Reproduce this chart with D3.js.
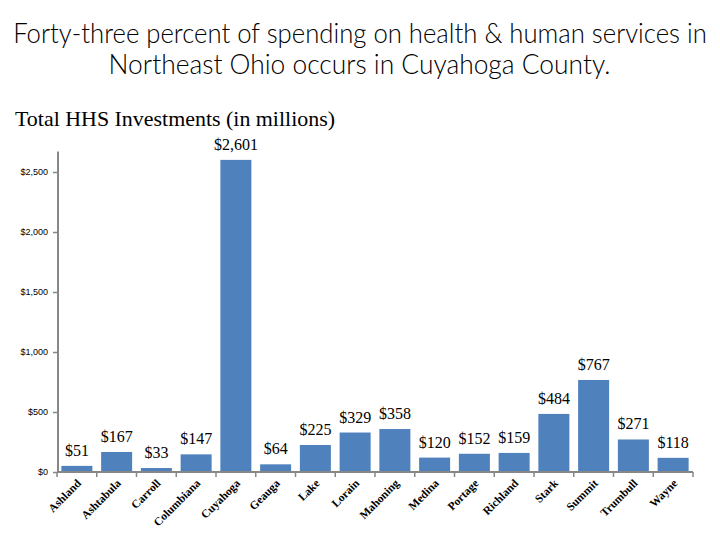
<!DOCTYPE html>
<html>
<head>
<meta charset="utf-8">
<script src="https://cdn.jsdelivr.net/npm/d3@7"></script>
<style>
  html, body { margin: 0; padding: 0; background: #fff; }
  svg { display: block; }
</style>
</head>
<body>
<svg id="chart" width="720" height="540"></svg>
<script>
const titleLines = ["Forty-three percent of spending on health & human services in", "Northeast Ohio occurs in Cuyahoga County."];
const subtitle = "Total HHS Investments (in millions)";
const counties = ["Ashland","Ashtabula","Carroll","Columbiana","Cuyahoga","Geauga","Lake","Lorain","Mahoning","Medina","Portage","Richland","Stark","Summit","Trumbull","Wayne"];
const investments = [51,167,33,147,2601,64,225,329,358,120,152,159,484,767,271,118];
const yTicks = [0,500,1000,1500,2000,2500];
const yAxisMax = 2670;

const svg = d3.select("#chart");
const fmt = d3.format(",");

// Titles: fit natural width, then stretch vertically to reference cap height
const titleFont = "Lato, 'Open Sans', sans-serif";
function fitTitle(str, cx, baseline, targetW, targetSize) {
  const t = svg.append("text").attr("x", 0).attr("y", 0)
    .attr("text-anchor", "middle")
    .attr("font-family", titleFont).attr("font-weight", 300).attr("font-size", 20)
    .attr("fill", "#000").text(str);
  const w = t.node().getComputedTextLength();
  const size = 20 * targetW / w;
  t.attr("font-size", size)
   .attr("transform", `translate(${cx},${baseline}) scale(1,${targetSize / size})`);
}
fitTitle(titleLines[0], 360, 43, 694, 27.5);
fitTitle(titleLines[1], 359.5, 74, 502, 27.5);

svg.append("text").attr("x", 15).attr("y", 126)
  .attr("font-family", "'Liberation Serif', 'DejaVu Serif', serif").attr("font-size", 21)
  .attr("textLength", 320).attr("lengthAdjust", "spacingAndGlyphs")
  .attr("fill", "#000").text(subtitle);

// Scales
const x0 = 57, x1 = 693, yBase = 472, y2500 = 172;
const x = d3.scaleBand().domain(counties).range([x0, x1]).paddingInner(0.22).paddingOuter(0.11);
const y = d3.scaleLinear().domain([0, 2500]).range([yBase, y2500]);

const axisColor = "#878787";

// Y axis
const yAxis = d3.axisLeft(y).tickValues(yTicks).tickSize(5).tickPadding(5)
  .tickFormat(d => "$" + fmt(d));
const gy = svg.append("g").attr("transform", `translate(${x0 + 1},0)`).call(yAxis);
gy.select(".domain").remove();
gy.append("line").attr("x1", 0).attr("x2", 0).attr("y1", y(yAxisMax)).attr("y2", yBase)
  .attr("stroke", axisColor).attr("stroke-width", 2);
gy.selectAll(".tick line").attr("stroke", axisColor).attr("stroke-width", 1.5);
gy.selectAll(".tick text").attr("font-family", "'Liberation Sans', Arial, sans-serif")
  .attr("font-size", 9).attr("fill", "#000");

// Bars
svg.append("g").selectAll("rect").data(counties).join("rect")
  .attr("x", d => x(d))
  .attr("width", x.bandwidth())
  .attr("y", (d, i) => y(investments[i]))
  .attr("height", (d, i) => yBase - y(investments[i]))
  .attr("fill", "#4F81BD");

// Value labels
svg.append("g").selectAll("text").data(counties).join("text")
  .attr("x", d => x(d) + x.bandwidth() / 2)
  .attr("y", (d, i) => y(investments[i]) - 10)
  .attr("text-anchor", "middle")
  .attr("font-family", "'Liberation Serif', 'DejaVu Serif', serif")
  .attr("font-size", 16).attr("fill", "#000")
  .text((d, i) => "$" + fmt(investments[i]));

// X axis line and ticks between categories
const gx = svg.append("g");
gx.append("line").attr("x1", x0).attr("x2", x1).attr("y1", yBase).attr("y2", yBase)
  .attr("stroke", axisColor).attr("stroke-width", 2);
const slot = (x1 - x0) / counties.length;
gx.selectAll("line.tk").data(d3.range(counties.length + 1)).join("line").attr("class", "tk")
  .attr("x1", i => x0 + i * slot).attr("x2", i => x0 + i * slot)
  .attr("y1", yBase).attr("y2", yBase + 5)
  .attr("stroke", axisColor).attr("stroke-width", 1.5);

// X labels rotated
gx.selectAll("text").data(counties).join("text")
  .attr("transform", d => `translate(${x(d) + x.bandwidth() / 2 + 5},${yBase + 12}) rotate(-45)`)
  .attr("text-anchor", "end")
  .attr("font-family", "'Liberation Serif', 'DejaVu Serif', serif")
  .attr("font-weight", "bold").attr("font-size", 11.5).attr("fill", "#000")
  .text(d => d);
</script>
</body>
</html>
